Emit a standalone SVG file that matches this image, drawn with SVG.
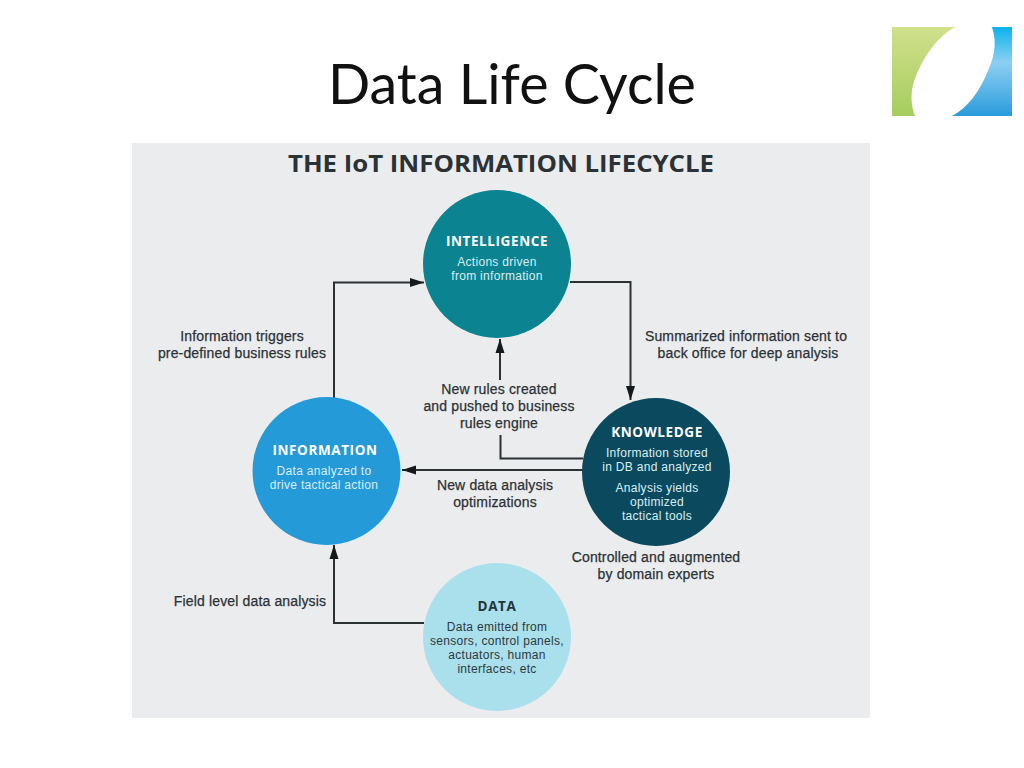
<svg xmlns="http://www.w3.org/2000/svg" width="1024" height="768" viewBox="0 0 1024 768">
<style>
.t{font-family:"Liberation Sans",Arial,sans-serif;text-anchor:middle}
.lab{font-size:14px;fill:#2b3236;stroke:#2b3236;stroke-width:.25px;letter-spacing:.15px}
.head{font-family:"Open Sans","Liberation Sans",sans-serif;font-size:13.5px;font-weight:700;fill:#fff;letter-spacing:.6px}
.sub{font-size:12px;fill:#d9eef4;letter-spacing:.3px}
.dk{fill:#2c3a40}
.c{fill:none;stroke:#2b3033;stroke-width:2}
</style>
<defs>
<marker id="ah" markerUnits="userSpaceOnUse" markerWidth="15" markerHeight="10" refX="14" refY="5" orient="auto"><path d="M0 .5L14 5L0 9.500Z" fill="#15191b"/></marker>
<linearGradient id="g" x1="0" y1="0" x2="0" y2="1"><stop offset="0" stop-color="#d0e08c"/><stop offset="1" stop-color="#a6cd5e"/></linearGradient>
<linearGradient id="b" x1="0" y1="0" x2="0" y2="1"><stop offset="0" stop-color="#0bb3ec"/><stop offset=".4" stop-color="#8dcff3"/><stop offset="1" stop-color="#2a9bdb"/></linearGradient>
</defs>
<rect width="1024" height="768" fill="#fff"/>
<text x="512" y="104" font-family="Lato,'Liberation Sans',sans-serif" font-size="56" fill="#111" text-anchor="middle" textLength="368" lengthAdjust="spacingAndGlyphs">Data Life Cycle</text>
<g id="logo">
<path d="M892 27H955C935 38 920 62 913 85C910 98 912 108 915 116H892Z" fill="url(#g)"/>
<path d="M992 27H1012V116H952C968 108 980 90 987 73C993 60 998 45 992 27Z" fill="url(#b)"/>
</g>
<rect x="132" y="143" width="738" height="575" fill="#ebecee"/>
<text x="501" y="172" font-family="'Open Sans','Liberation Sans',sans-serif" text-anchor="middle" font-size="23" font-weight="700" fill="#2b3236" textLength="426" lengthAdjust="spacingAndGlyphs">THE IoT INFORMATION LIFECYCLE</text>
<g id="connectors">
<path class="c" d="M334 398V282.500H424" marker-end="url(#ah)"/>
<path class="c" d="M570 282H630.500V400" marker-end="url(#ah)"/>
<path class="c" d="M500 380V339" marker-end="url(#ah)"/>
<path class="c" d="M500.500 435V458.500H583"/>
<path class="c" d="M583 470H402" marker-end="url(#ah)"/>
<path class="c" d="M424 623H334V545" marker-end="url(#ah)"/>
</g>
<g id="intelligence">
<circle cx="497" cy="264" r="74" fill="#0b8390"/>
<text class="t head" x="497" y="246">INTELLIGENCE</text>
<text class="t sub" x="497" y="266">Actions driven</text>
<text class="t sub" x="497" y="280">from information</text>
</g>
<g id="information">
<circle cx="326.500" cy="471" r="74" fill="#259ad8"/>
<text class="t head" x="325" y="455">INFORMATION</text>
<text class="t sub" x="324" y="475">Data analyzed to</text>
<text class="t sub" x="324" y="489">drive tactical action</text>
</g>
<g id="knowledge">
<circle cx="656" cy="472" r="74" fill="#0b4a5e"/>
<text class="t head" x="657" y="437">KNOWLEDGE</text>
<text class="t sub" x="657" y="457">Information stored</text>
<text class="t sub" x="657" y="471">in DB and analyzed</text>
<text class="t sub" x="657" y="492">Analysis yields</text>
<text class="t sub" x="657" y="506">optimized</text>
<text class="t sub" x="657" y="520">tactical tools</text>
</g>
<g id="data">
<circle cx="497" cy="637" r="74" fill="#aadfec"/>
<text class="t head" x="497" y="611" style="fill:#24343c">DATA</text>
<text class="t sub dk" x="497" y="631">Data emitted from</text>
<text class="t sub dk" x="497" y="645">sensors, control panels,</text>
<text class="t sub dk" x="497" y="659">actuators, human</text>
<text class="t sub dk" x="497" y="673">interfaces, etc</text>
</g>
<g id="labels">
<text class="t lab" x="242" y="341">Information triggers</text>
<text class="t lab" x="242" y="358">pre-defined business rules</text>
<text class="t lab" x="746" y="341">Summarized information sent to</text>
<text class="t lab" x="748" y="358">back office for deep analysis</text>
<text class="t lab" x="499" y="394">New rules created</text>
<text class="t lab" x="499" y="411">and pushed to business</text>
<text class="t lab" x="499" y="428">rules engine</text>
<text class="t lab" x="495" y="490">New data analysis</text>
<text class="t lab" x="495" y="507">optimizations</text>
<text class="t lab" x="656" y="562">Controlled and augmented</text>
<text class="t lab" x="656" y="579">by domain experts</text>
<text class="t lab" x="250" y="606">Field level data analysis</text>
</g>
</svg>
